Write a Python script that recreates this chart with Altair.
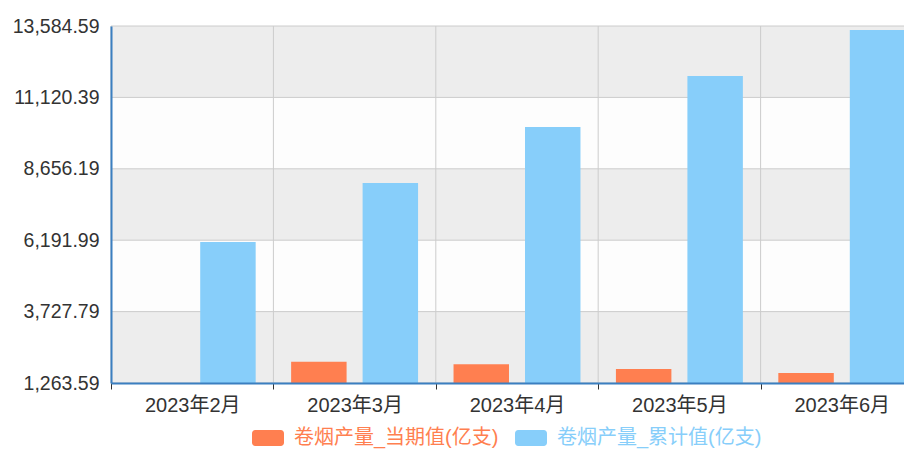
import altair as alt
import pandas as pd

months = ["2023年2月", "2023年3月", "2023年4月", "2023年5月", "2023年6月"]
series = ["卷烟产量_当期值(亿支)", "卷烟产量_累计值(亿支)"]
current = [1263.59, 2000, 1909, 1747, 1609]
cumulative = [6130, 8166, 10098, 11858, 13446]
y_ticks = [1263.59, 3727.79, 6191.99, 8656.19, 11120.39, 13584.59]
colors = ["#FF7F50", "#87CEFA"]
band_fills = ["#EDEDED", "#FDFDFD"]

rows = []
for m, c, t in zip(months, current, cumulative):
    rows.append({"month": m, "series": series[0], "value": c})
    rows.append({"month": m, "series": series[1], "value": t})
df = pd.DataFrame(rows)

bands = pd.DataFrame({
    "lo": y_ticks[:-1],
    "hi": y_ticks[1:],
    "fill": [band_fills[i % 2] for i in range(len(y_ticks) - 1)],
})
ticks_df = pd.DataFrame({"t": y_ticks})
months_df = pd.DataFrame({"month": months})

W, H = 812, 357
FONT = "Liberation Sans, Arial, Noto Sans CJK SC"
AXIS_BLUE = "#3B7FC0"
GRID = "#CCCCCC"

yscale = alt.Scale(domain=[y_ticks[0], y_ticks[-1]], zero=False, nice=False)
xscale = alt.Scale(domain=months, paddingInner=0, paddingOuter=0)

x_axis = alt.Axis(title=None, tickBand="extent", grid=False, labelAngle=0,
                  domainColor=AXIS_BLUE, domainWidth=2,
                  tickColor="#333333", tickSize=6, tickWidth=1,
                  labelFontSize=20, labelColor="#333333", labelPadding=6,
                  labelFont=FONT, zindex=1)
y_axis = alt.Axis(values=y_ticks, format=",.2f", title=None, grid=False,
                  ticks=False, domainColor=AXIS_BLUE, domainWidth=2,
                  labelFontSize=19.5, labelColor="#333333", labelPadding=12,
                  labelFont=FONT, zindex=1)

bg = alt.Chart(bands).mark_rect().encode(
    x=alt.value(0), x2=alt.value(W),
    y=alt.Y("lo:Q", scale=yscale, axis=y_axis), y2="hi:Q",
    fill=alt.Fill("fill:N", scale=None),
)

hgrid = alt.Chart(ticks_df).mark_rule(color=GRID, strokeWidth=1).encode(
    y=alt.Y("t:Q", scale=yscale, axis=y_axis)
)

vgrid = alt.Chart(months_df).mark_rule(color=GRID, strokeWidth=1).encode(
    x=alt.X("month:N", scale=xscale, sort=months, bandPosition=0, axis=x_axis)
)

bars = alt.Chart(df).mark_bar(clip=True).encode(
    x=alt.X("month:N", scale=xscale, sort=months, axis=x_axis),
    xOffset=alt.XOffset("series:N", sort=series,
                        scale=alt.Scale(domain=series, paddingInner=0.224, paddingOuter=0.248)),
    y=alt.Y("value:Q", scale=yscale, axis=y_axis),
    color=alt.Color("series:N", sort=series,
                    scale=alt.Scale(domain=series, range=colors),
                    legend=alt.Legend(
                        title=None, orient="none", legendX=141, legendY=396,
                        direction="horizontal", padding=0,
                        symbolType="M-0.8,-0.5 L0.8,-0.5 A0.2,0.2 0 0 1 1,-0.3 L1,0.3 A0.2,0.2 0 0 1 0.8,0.5 L-0.8,0.5 A0.2,0.2 0 0 1 -1,0.3 L-1,-0.3 A0.2,0.2 0 0 1 -0.8,-0.5 Z",
                        symbolSize=1024, symbolStrokeWidth=0, symbolOpacity=1,
                        labelFontSize=20, labelFont=FONT, labelOffset=10,
                        columnPadding=16, labelLimit=400,
                        labelColor={"expr": "datum.label == '卷烟产量_当期值(亿支)' ? '#FF7F50' : '#87CEFA'"},
                    )),
)

chart = alt.layer(bg, hgrid, vgrid, bars).properties(
    width=W, height=H,
    autosize=alt.AutoSizeParams(type="none"),
    padding={"left": 103, "top": 18, "right": -19, "bottom": 68},
    background="white",
).configure_view(stroke=None).configure(font=FONT)

chart.save("out.html", embed_options={"renderer": "svg", "actions": False})
